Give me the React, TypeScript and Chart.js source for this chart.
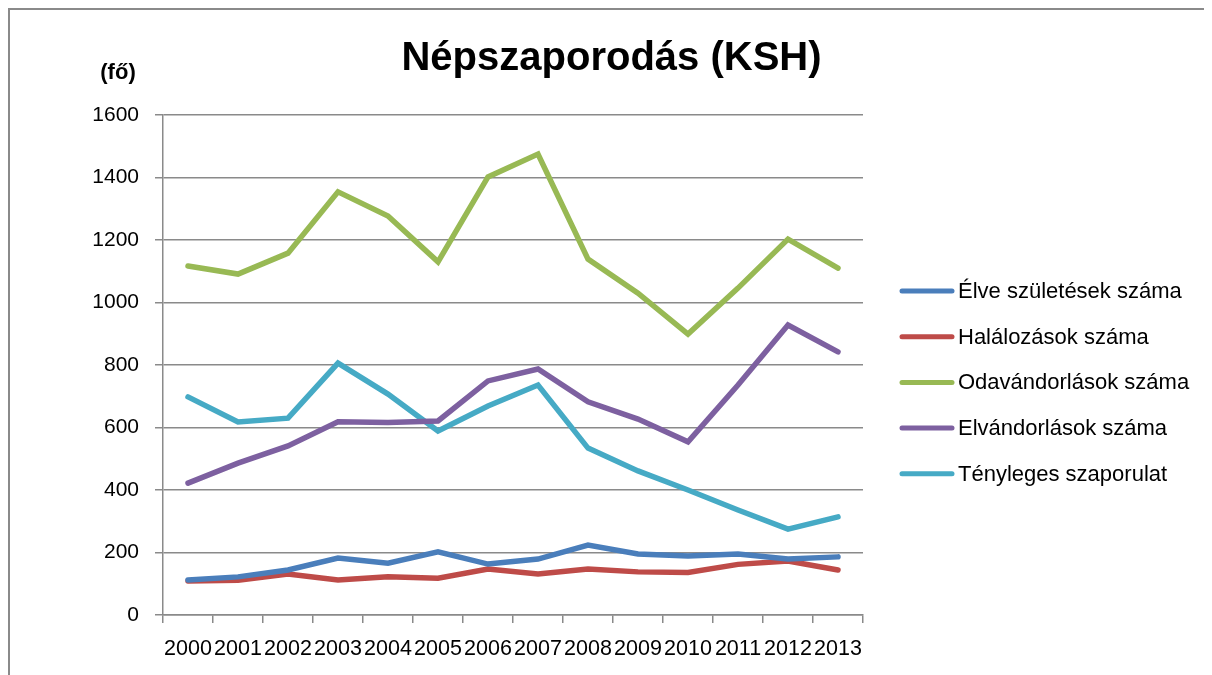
import React, { useEffect, useRef } from "react";
import { Chart, registerables } from "chart.js";

Chart.register(...registerables);

const years = ["2000","2001","2002","2003","2004","2005","2006","2007","2008","2009","2010","2011","2012","2013"];
const elveSzuletesek = [112, 122, 144, 182, 166, 202, 163, 179, 224, 195, 189, 195, 179, 186];
const halalozasok = [109, 111, 131, 112, 122, 118, 147, 131, 147, 138, 136, 162, 173, 144];
const odavandorlasok = [1117, 1091, 1158, 1354, 1277, 1130, 1402, 1475, 1139, 1030, 899, 1046, 1203, 1110];
const elvandorlasok = [422, 486, 541, 618, 616, 621, 749, 787, 682, 627, 554, 736, 928, 842];
const tenylegesSzaporulat = [698, 618, 630, 806, 707, 589, 669, 736, 534, 461, 400, 336, 275, 314];

const seriesNames = ["Élve születések száma", "Halálozások száma", "Odavándorlások száma", "Elvándorlások száma", "Tényleges szaporulat"];
const seriesColors = ["#4A7EBB", "#BE4B48", "#98B954", "#7D60A0", "#46AAC5"];
const yTicks = [0, 200, 400, 600, 800, 1000, 1200, 1400, 1600];
const titleText = "Népszaporodás (KSH)";
const unitText = "(fő)";

const FONT = "'Liberation Sans', Arial, sans-serif";

const extrasPlugin = {
  id: "extras",
  afterDraw(chart: any) {
    const ctx = chart.ctx;
    const area = chart.chartArea;
    ctx.save();
    ctx.fillStyle = "#000";
    ctx.textBaseline = "middle";
    // title
    ctx.font = `bold 40px ${FONT}`;
    ctx.textAlign = "center";
    ctx.fillText(titleText, chart.width / 2 + 4, area.top - 56);
    // unit label
    ctx.font = `bold 22px ${FONT}`;
    ctx.fillText(unitText, area.left - 45, area.top - 42);
    // legend
    ctx.font = `22px ${FONT}`;
    ctx.textAlign = "left";
    chart.data.datasets.forEach((ds: any, i: number) => {
      const y = area.top + 176 + i * 45.7;
      const x0 = area.right + 39;
      ctx.strokeStyle = ds.borderColor;
      ctx.lineWidth = 5;
      ctx.lineCap = "round";
      ctx.beginPath();
      ctx.moveTo(x0, y);
      ctx.lineTo(x0 + 50, y);
      ctx.stroke();
      ctx.fillStyle = "#000";
      ctx.fillText(ds.label, x0 + 56, y + 1);
    });
    ctx.restore();
  },
};

export default function App() {
  const ref = useRef<HTMLCanvasElement | null>(null);
  useEffect(() => {
    document.body.style.overflow = "hidden";
    const values = [elveSzuletesek, halalozasok, odavandorlasok, elvandorlasok, tenylegesSzaporulat];
    const chart = new Chart(ref.current as HTMLCanvasElement, {
      type: "line",
      data: {
        labels: years,
        datasets: values.map((v, i) => ({
          label: seriesNames[i],
          data: v,
          borderColor: seriesColors[i],
          backgroundColor: seriesColors[i],
          borderWidth: 5.5,
          pointRadius: 0,
          tension: 0,
          borderCapStyle: "round",
          borderJoinStyle: "miter",
        })),
      },
      options: {
        animation: false,
        responsive: false,
        maintainAspectRatio: false,
        layout: { padding: { left: 0, right: 342, top: 105, bottom: 0 } },
        plugins: {
          legend: { display: false },
          tooltip: { enabled: false },
          title: { display: false },
        },
        scales: {
          x: {
            type: "category",
            offset: true,
            grid: { display: true, drawOnChartArea: false, drawTicks: true, tickLength: 8, offset: true, color: "#8a8a8a", lineWidth: 1.5 },
            border: { display: true, color: "#8a8a8a", width: 1.5 },
            ticks: { color: "#000", font: { family: FONT, size: 21.5 }, padding: 13, autoSkip: false, maxRotation: 0, minRotation: 0 },
            afterFit: (s: any) => { s.height = 55; },
          },
          y: {
            min: 0,
            max: 1600,
            afterBuildTicks: (s: any) => { s.ticks = yTicks.map((v) => ({ value: v })); },
            grid: { color: "#8a8a8a", lineWidth: 1.5, tickLength: 8 },
            border: { display: true, color: "#8a8a8a", width: 1.5 },
            ticks: { color: "#000", font: { family: FONT, size: 21 }, padding: 16, callback: (v: any) => String(v) },
            afterFit: (s: any) => { s.width = 153; },
          },
        },
      },
      plugins: [extrasPlugin],
    });
    return () => chart.destroy();
  }, []);
  return (
    <div style={{ width: 1195, height: 700, border: "2px solid #8a8a8a", boxSizing: "content-box", position: "relative" }}>
      <canvas ref={ref} width={1195} height={660} style={{ display: "block", width: 1195, height: 660 }} />
    </div>
  );
}
